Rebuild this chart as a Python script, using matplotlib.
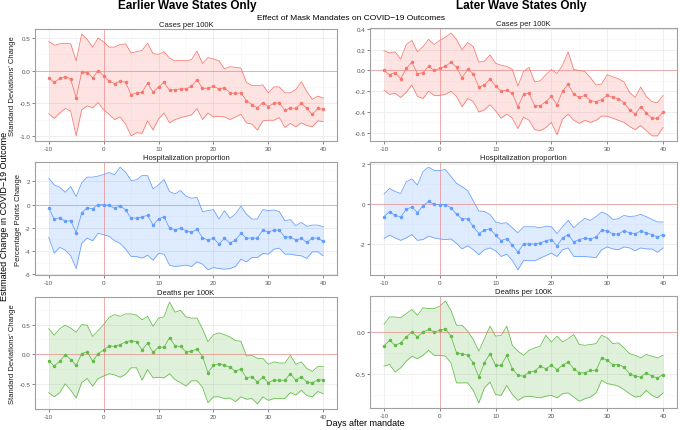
import numpy as np
import matplotlib
matplotlib.use("Agg")
from matplotlib import pyplot as plt
from matplotlib.ticker import MultipleLocator

plt.rcParams['font.family'] = ['Liberation Sans', 'DejaVu Sans']
plt.rcParams['axes.unicode_minus'] = False

days = list(range(-10, 41))

# Earlier wave - cases per 100K
early_cases = [-0.11, -0.18, -0.12, -0.09, -0.13, -0.42, -0.02, -0.03, -0.11, 0.0, -0.08,
               -0.16, -0.20, -0.16, -0.18, -0.37, -0.34, -0.33, -0.19, -0.33, -0.25,
               -0.18, -0.30, -0.29, -0.28, -0.28, -0.24, -0.14, -0.27, -0.27, -0.24,
               -0.28, -0.26, -0.34, -0.35, -0.34, -0.46, -0.52, -0.57, -0.49, -0.55,
               -0.50, -0.49, -0.61, -0.57, -0.58, -0.50, -0.58, -0.67, -0.58, -0.59]
early_cases_hi = [0.45, 0.39, 0.41, 0.42, 0.41, 0.15, 0.56, 0.48, 0.36, 0.50, 0.44,
                  0.36, 0.36, 0.40, 0.41, 0.27, 0.29, 0.31, 0.42, 0.26, 0.25,
                  0.29, 0.19, 0.15, 0.16, 0.15, 0.17, 0.30, 0.11, 0.20, 0.18,
                  0.15, 0.03, 0.06, 0.05, 0.04, -0.18, -0.23, -0.23, -0.22, -0.34,
                  -0.25, -0.25, -0.34, -0.34, -0.29, -0.17, -0.32, -0.44, -0.39, -0.42]
early_cases_lo = [-0.66, -0.73, -0.65, -0.58, -0.62, -1.00, -0.60, -0.54, -0.57, -0.49, -0.60,
                  -0.67, -0.75, -0.71, -0.82, -1.00, -0.95, -0.96, -0.77, -0.91, -0.74,
                  -0.65, -0.80, -0.75, -0.72, -0.70, -0.68, -0.58, -0.75, -0.65, -0.71,
                  -0.70, -0.71, -0.75, -0.71, -0.67, -0.80, -0.82, -0.91, -0.77, -0.76,
                  -0.76, -0.72, -0.87, -0.81, -0.86, -0.80, -0.84, -0.86, -0.77, -0.78]

# Later wave - cases per 100K
late_cases = [0.0, -0.04, -0.02, -0.08, 0.02, 0.08, -0.03, -0.02, 0.04, 0.0, 0.02,
              0.04, 0.08, 0.03, -0.07, 0.01, -0.03, -0.16, -0.14, -0.08, -0.15,
              -0.20, -0.19, -0.22, -0.35, -0.23, -0.22, -0.34, -0.34, -0.30, -0.25,
              -0.33, -0.20, -0.13, -0.23, -0.26, -0.24, -0.29, -0.30, -0.28, -0.24,
              -0.26, -0.27, -0.31, -0.38, -0.42, -0.35, -0.41, -0.46, -0.46, -0.40]
late_cases_hi = [0.19, 0.17, 0.18, 0.11, 0.25, 0.29, 0.18, 0.23, 0.30, 0.25, 0.29,
                 0.32, 0.36, 0.30, 0.20, 0.27, 0.23, 0.08, 0.09, 0.15, 0.07,
                 0.05, 0.04, 0.01, -0.15, -0.01, 0.03, -0.11, -0.10, -0.04, 0.01,
                 -0.03, 0.05, 0.18, 0.01, 0.0, -0.01, -0.07, -0.14, -0.13, -0.04,
                 -0.06, -0.08, -0.11, -0.21, -0.26, -0.16, -0.25, -0.30, -0.31, -0.24]
late_cases_lo = [-0.19, -0.23, -0.22, -0.26, -0.21, -0.14, -0.25, -0.27, -0.20, -0.24, -0.24,
                 -0.23, -0.20, -0.25, -0.35, -0.27, -0.30, -0.40, -0.38, -0.33, -0.39,
                 -0.46, -0.42, -0.46, -0.56, -0.45, -0.48, -0.57, -0.58, -0.55, -0.50,
                 -0.62, -0.47, -0.42, -0.48, -0.51, -0.48, -0.50, -0.48, -0.44, -0.44,
                 -0.46, -0.48, -0.50, -0.54, -0.57, -0.53, -0.58, -0.63, -0.63, -0.55]

# Earlier wave - hospitalization proportion
early_hosp = [-0.26, -1.27, -1.12, -1.44, -1.38, -2.42, -0.72, -0.26, -0.37, 0.0, 0.0,
              -0.06, -0.32, -0.09, -0.46, -1.18, -1.15, -1.06, -0.92, -1.76, -1.24,
              -1.04, -2.04, -2.16, -2.04, -2.24, -2.39, -2.10, -2.85, -3.05, -2.88,
              -3.40, -2.90, -3.30, -3.05, -2.47, -2.88, -2.88, -2.88, -2.19, -2.36,
              -2.19, -2.19, -2.82, -2.76, -3.05, -2.90, -3.25, -2.88, -2.88, -3.17]
early_hosp_hi = [2.27, 1.70, 1.50, 1.06, 1.55, 0.69, 1.87, 2.36, 2.36, 2.45, 2.59,
                 2.76, 2.56, 3.22, 2.79, 2.07, 2.13, 2.50, 2.50, 1.35, 1.70,
                 2.16, 1.12, 0.92, 1.21, 0.72, 0.55, 0.63, -0.60, -0.52, -0.43,
                 -1.24, -0.52, -1.18, -0.81, -0.14, -0.81, -1.24, -1.24, -0.43, -0.52,
                 -0.46, -0.60, -1.38, -1.29, -1.81, -1.53, -1.87, -1.76, -1.76, -1.90]
early_hosp_lo = [-2.82, -4.17, -3.68, -3.91, -4.40, -5.50, -3.34, -2.88, -3.11, -2.47, -2.59,
                 -2.73, -3.11, -3.34, -3.83, -4.46, -4.46, -4.60, -4.35, -4.78, -4.20,
                 -4.26, -5.21, -5.32, -5.27, -5.21, -5.32, -4.92, -5.12, -5.61, -5.41,
                 -5.50, -5.55, -5.50, -5.32, -4.69, -4.92, -4.55, -4.55, -4.20, -4.26,
                 -3.83, -3.74, -4.26, -4.26, -4.35, -4.40, -4.63, -4.06, -4.06, -4.40]

# Later wave - hospitalization proportion
late_hosp = [-0.62, -0.37, -0.56, -0.64, -0.25, -0.14, -0.42, -0.08, 0.14, 0.0, -0.02,
             -0.02, -0.17, -0.51, -0.73, -0.73, -1.11, -1.47, -1.30, -1.23, -1.55,
             -1.82, -1.72, -2.05, -2.40, -1.99, -1.99, -1.99, -1.96, -1.82, -1.77,
             -2.08, -1.69, -1.52, -1.89, -1.77, -1.69, -1.74, -1.65, -1.30, -1.32,
             -1.49, -1.49, -1.33, -1.43, -1.47, -1.35, -1.43, -1.52, -1.65, -1.52]
late_hosp_hi = [0.51, 0.79, 0.64, 0.54, 1.13, 1.27, 0.96, 1.64, 1.86, 1.69, 1.69,
                1.74, 1.40, 1.05, 0.88, 0.68, 0.17, -0.34, -0.37, -0.51, -0.89,
                -0.96, -0.93, -1.18, -1.43, -1.13, -1.13, -1.13, -1.18, -1.10, -1.13,
                -1.47, -1.13, -0.81, -1.18, -0.93, -0.71, -0.81, -0.62, -0.39, -0.51,
                -0.76, -0.73, -0.56, -0.62, -0.59, -0.51, -0.62, -0.76, -0.89, -0.89]
late_hosp_lo = [-1.72, -1.55, -1.69, -1.81, -1.69, -1.52, -1.81, -1.77, -1.60, -1.69, -1.74,
                -1.77, -1.74, -1.97, -2.24, -2.08, -2.28, -2.53, -2.28, -2.19, -2.33,
                -2.62, -2.50, -2.82, -3.29, -2.82, -2.82, -2.84, -2.70, -2.58, -2.45,
                -2.62, -2.28, -2.19, -2.62, -2.62, -2.62, -2.65, -2.67, -2.28, -2.14,
                -2.24, -2.28, -2.14, -2.19, -2.33, -2.19, -2.24, -2.24, -2.41, -2.19]

# Earlier wave - deaths per 100K
early_deaths = [-0.11, -0.20, -0.12, -0.01, -0.09, -0.19, 0.01, 0.04, -0.12, 0.01, 0.07,
                0.14, 0.13, 0.16, 0.21, 0.23, 0.21, 0.07, 0.19, 0.03, 0.12,
                0.12, 0.28, 0.14, 0.13, 0.04, 0.05, 0.09, -0.04, -0.31, -0.19,
                -0.16, -0.19, -0.22, -0.29, -0.25, -0.40, -0.38, -0.47, -0.39, -0.48,
                -0.44, -0.44, -0.44, -0.33, -0.44, -0.38, -0.47, -0.49, -0.43, -0.44]
early_deaths_hi = [0.43, 0.32, 0.43, 0.49, 0.44, 0.37, 0.50, 0.49, 0.30, 0.40, 0.50,
                   0.62, 0.67, 0.64, 0.68, 0.68, 0.66, 0.58, 0.64, 0.47, 0.61,
                   0.63, 0.88, 0.71, 0.74, 0.63, 0.61, 0.61, 0.43, 0.21, 0.33,
                   0.36, 0.33, 0.29, 0.23, 0.22, -0.03, -0.02, -0.07, -0.07, -0.17,
                   -0.13, -0.15, -0.15, -0.02, -0.17, -0.13, -0.24, -0.29, -0.21, -0.21]
early_deaths_lo = [-0.65, -0.72, -0.65, -0.50, -0.61, -0.74, -0.48, -0.41, -0.54, -0.41, -0.37,
                   -0.33, -0.35, -0.39, -0.34, -0.23, -0.23, -0.44, -0.26, -0.40, -0.39,
                   -0.40, -0.33, -0.43, -0.48, -0.54, -0.45, -0.45, -0.56, -0.82, -0.72,
                   -0.72, -0.75, -0.74, -0.80, -0.72, -0.76, -0.75, -0.84, -0.72, -0.78,
                   -0.75, -0.75, -0.75, -0.65, -0.69, -0.61, -0.70, -0.72, -0.63, -0.67]

# Later wave - deaths per 100K
late_deaths = [-0.17, -0.10, -0.16, -0.13, -0.06, 0.0, -0.06, 0.0, 0.03, 0.0, 0.02,
               0.04, -0.05, -0.25, -0.26, -0.28, -0.37, -0.54, -0.37, -0.26, -0.40,
               -0.40, -0.28, -0.44, -0.52, -0.53, -0.48, -0.47, -0.41, -0.44, -0.40,
               -0.45, -0.40, -0.36, -0.44, -0.49, -0.49, -0.46, -0.46, -0.31, -0.34,
               -0.39, -0.39, -0.42, -0.50, -0.53, -0.54, -0.49, -0.53, -0.55, -0.51]
late_deaths_hi = [0.09, 0.18, 0.18, 0.17, 0.22, 0.27, 0.20, 0.29, 0.28, 0.28, 0.31,
                  0.37, 0.26, 0.08, 0.08, 0.01, -0.09, -0.23, -0.08, 0.07, -0.05,
                  -0.04, 0.07, -0.16, -0.23, -0.28, -0.22, -0.19, -0.17, -0.04, -0.12,
                  -0.05, -0.12, -0.08, -0.03, -0.15, -0.16, -0.15, -0.14, -0.04, -0.07,
                  -0.14, -0.13, -0.19, -0.26, -0.28, -0.31, -0.27, -0.29, -0.31, -0.28]
late_deaths_lo = [-0.41, -0.39, -0.48, -0.43, -0.35, -0.29, -0.32, -0.28, -0.22, -0.28, -0.28,
                  -0.29, -0.37, -0.61, -0.61, -0.61, -0.70, -0.85, -0.67, -0.60, -0.75,
                  -0.76, -0.64, -0.75, -0.82, -0.78, -0.77, -0.78, -0.79, -0.77, -0.76,
                  -0.79, -0.74, -0.73, -0.78, -0.83, -0.80, -0.78, -0.73, -0.58, -0.62,
                  -0.63, -0.65, -0.69, -0.74, -0.78, -0.77, -0.70, -0.76, -0.79, -0.73]

RED = '#F8766D'
GREEN = '#62BB47'
BLUE = '#619CFF'
W, H = 680, 431

panels = [
    # (left, top, right, bottom) px, est, lo, hi, color, title, ylabel, yticks, fmt
    ((35, 30, 337, 142), early_cases, early_cases_lo, early_cases_hi, RED,
     'Cases per 100K', "Standard Deviations' Change", [-1.0, -0.5, 0.0, 0.5], '%.1f'),
    ((370, 29, 677, 142), late_cases, late_cases_lo, late_cases_hi, RED,
     'Cases per 100K', None, [-0.6, -0.4, -0.2, 0.0, 0.2, 0.4], '%.1f'),
    ((35, 163, 337, 276), early_hosp, early_hosp_lo, early_hosp_hi, BLUE,
     'Hospitalization proportion', 'Percentage Points Change', [-6, -4, -2, 0, 2], '%d'),
    ((370, 163, 677, 276), late_hosp, late_hosp_lo, late_hosp_hi, BLUE,
     'Hospitalization proportion', None, [-2, 0, 2], '%d'),
    ((35, 298, 337, 410), early_deaths, early_deaths_lo, early_deaths_hi, GREEN,
     'Deaths per 100K', "Standard Deviations' Change", [-0.5, 0.0, 0.5], '%.1f'),
    ((370, 297, 677, 409), late_deaths, late_deaths_lo, late_deaths_hi, GREEN,
     'Deaths per 100K', None, [-0.5, 0.0], '%.1f'),
]

fig = plt.figure(figsize=(6.8, 4.31), dpi=100)

for (l, t, r, b), est, lo, hi, col, title, ylab, yt, fmt in panels:
    ax = fig.add_axes([l / W, 1 - b / H, (r - l) / W, (b - t) / H])
    ax.fill_between(days, lo, hi, color=col, alpha=0.2, lw=0, zorder=2)
    ax.plot(days, lo, color=col, lw=0.55, zorder=3)
    ax.plot(days, hi, color=col, lw=0.55, zorder=3)
    ax.axhline(0, color='#F08080', lw=0.7, alpha=0.6, zorder=2.5)
    ax.axvline(0, color='#F08080', lw=0.7, alpha=0.6, zorder=2.5)
    ax.plot(days, est, color=col, lw=0.55, marker='o', ms=1.5, zorder=4)
    ax.set_xlim(-12.5, 42.5)
    ymin, ymax = min(lo), max(hi)
    pad = (ymax - ymin) * 0.05
    ax.set_ylim(ymin - pad, ymax + pad)
    ax.set_xticks([-10, 0, 10, 20, 30, 40])
    ax.xaxis.set_minor_locator(MultipleLocator(5))
    ax.set_yticks(yt)
    ax.set_yticklabels([fmt % v for v in yt])
    step = yt[1] - yt[0]
    ax.yaxis.set_minor_locator(MultipleLocator(step / 2))
    ax.grid(which='major', color='#EBEBEB', lw=0.6, zorder=0)
    ax.grid(which='minor', color='#F5F5F5', lw=0.4, zorder=0)
    ax.set_axisbelow(True)
    ax.tick_params(which='major', labelsize=4.5, colors='#555555', length=2, width=0.5, pad=1.5)
    ax.tick_params(which='minor', length=0)
    for s in ax.spines.values():
        s.set_color('#A0A0A0')
        s.set_linewidth(0.8)
    ax.set_title(title, fontsize=5.5, pad=2.5, color='#1A1A1A')
    if ylab:
        ax.set_ylabel(ylab, fontsize=5.5, labelpad=2, color='#1A1A1A')

fig.text(187 / W, 1 - 6 / H, 'Earlier Wave States Only', ha='center', va='center',
         fontsize=8.5, fontweight='bold')
fig.text(521 / W, 1 - 6 / H, 'Later Wave States Only', ha='center', va='center',
         fontsize=8.5, fontweight='bold')
fig.text(351 / W, 1 - 18 / H, 'Effect of Mask Mandates on COVID\u221219 Outcomes', ha='center',
         va='center', fontsize=6)
fig.text(365 / W, 1 - 424 / H, 'Days after mandate', ha='center', va='center', fontsize=6.5)
fig.text(5 / W, 1 - 216 / H, 'Estimated Change in COVID\u221219 Outcome', ha='center',
         va='center', rotation=90, fontsize=6.5)

fig.savefig('out.png', dpi=100)
